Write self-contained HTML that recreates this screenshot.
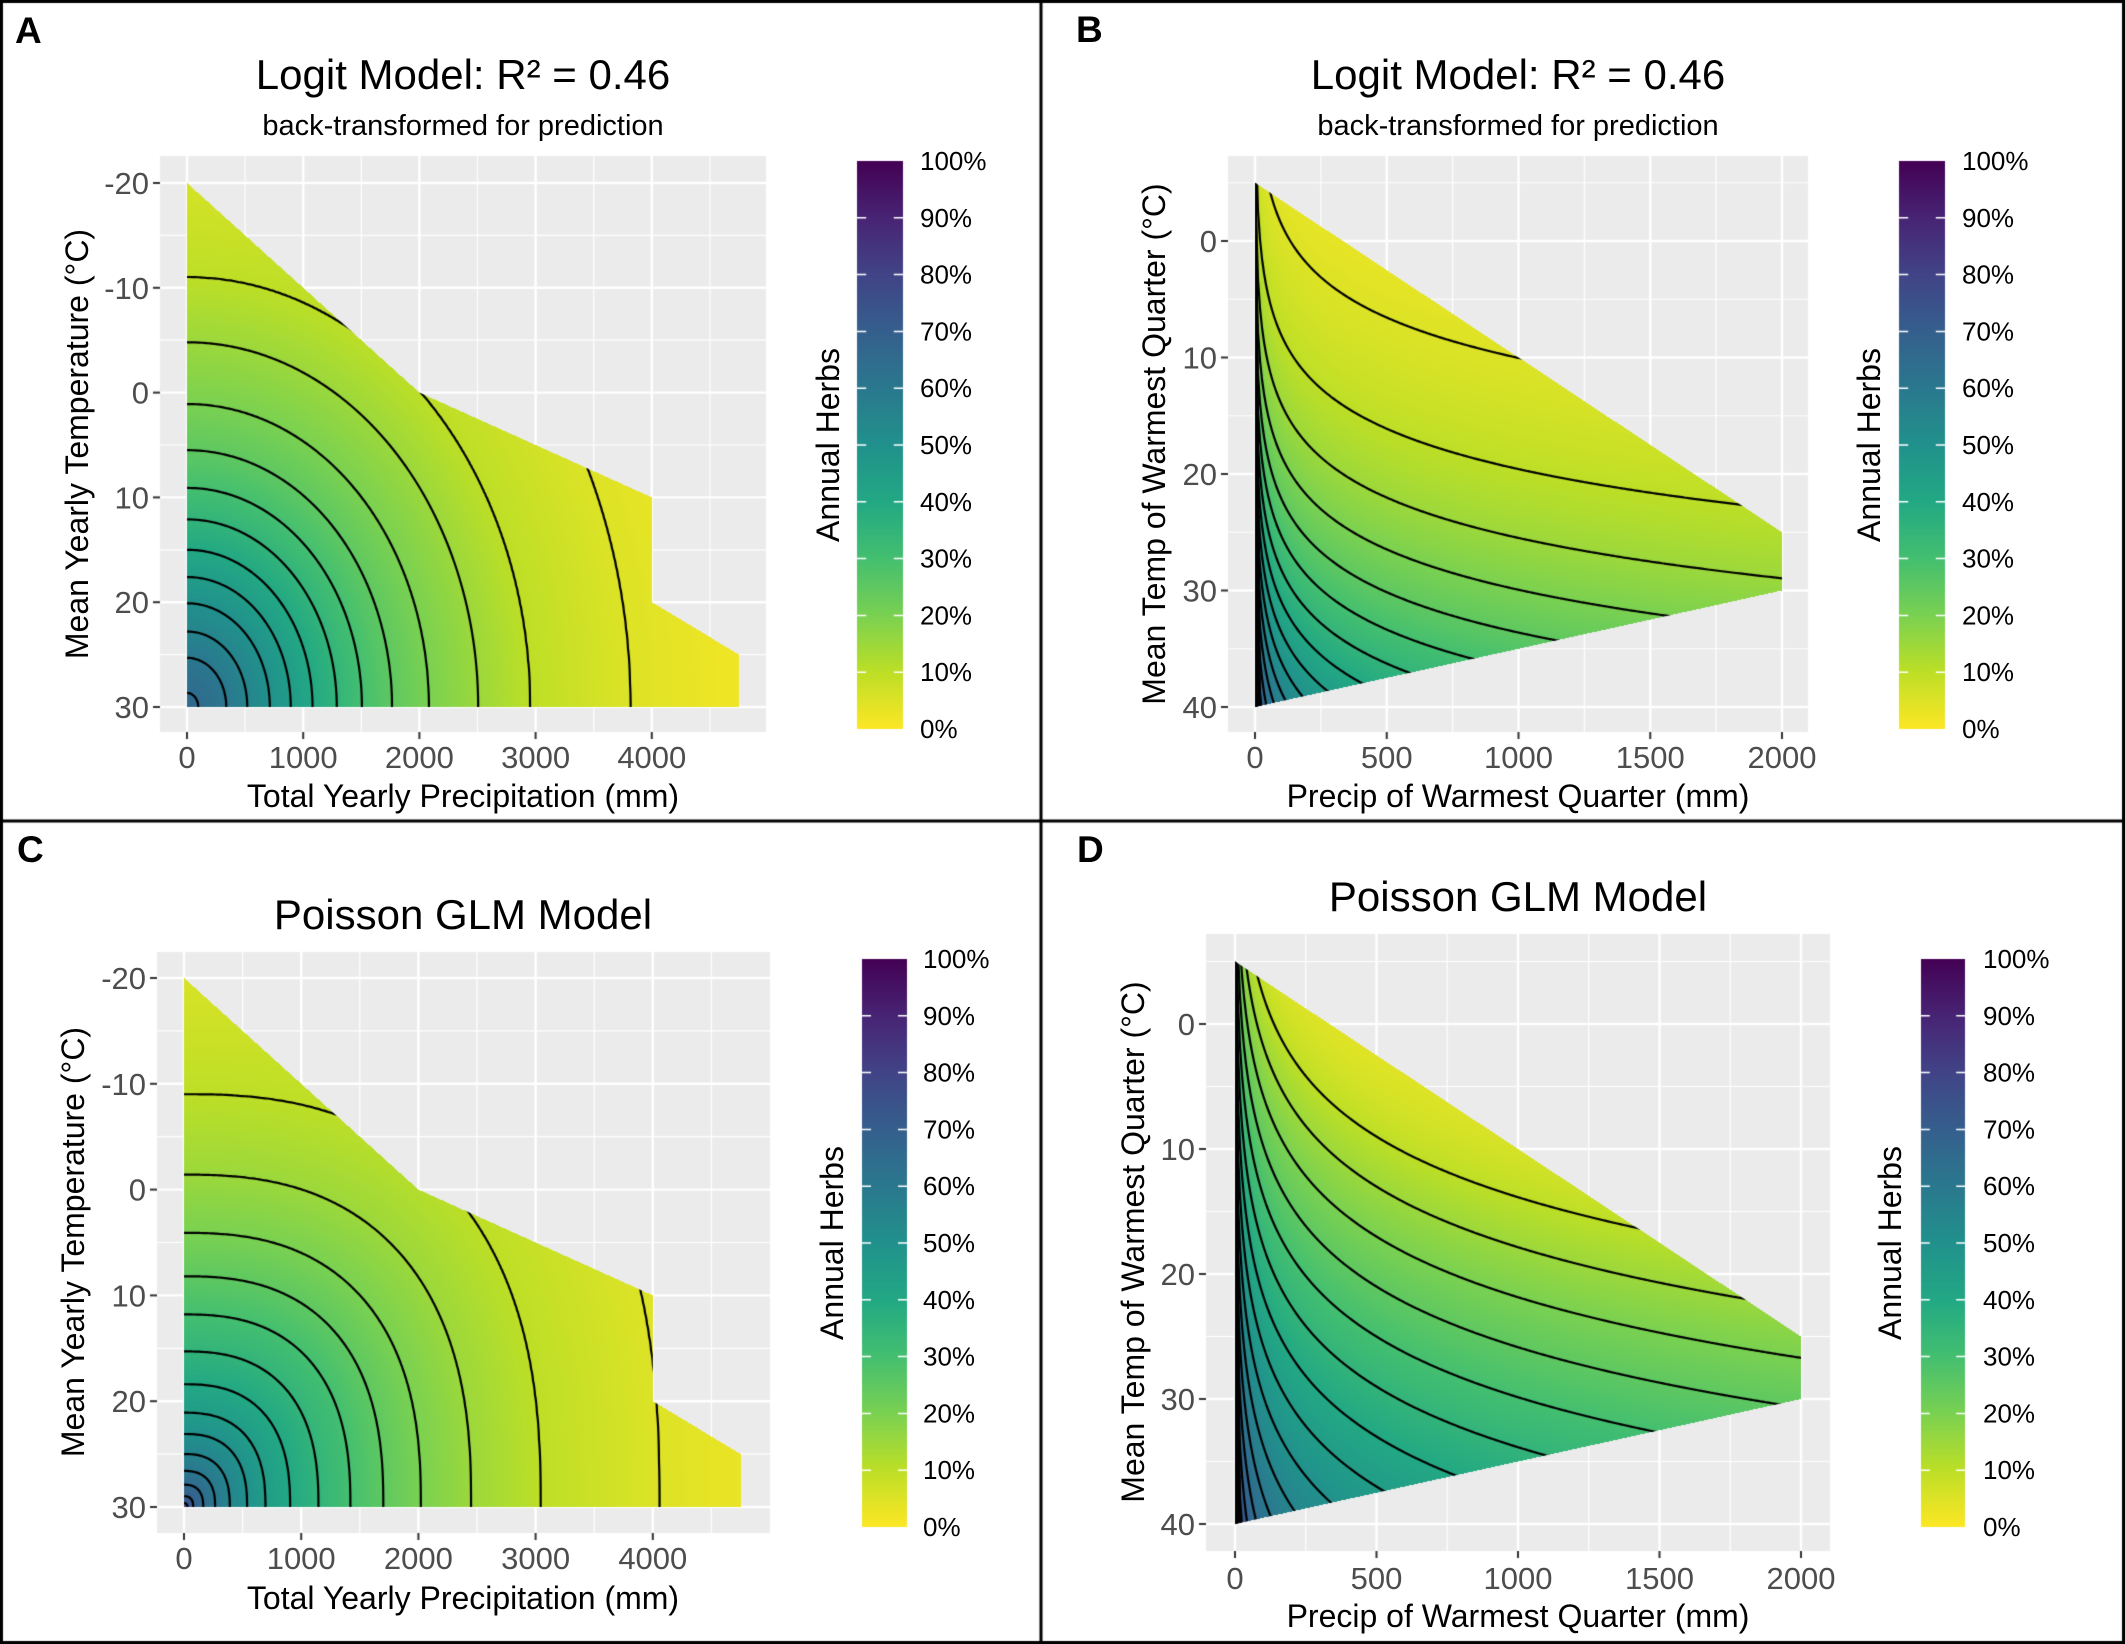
<!DOCTYPE html>
<html><head><meta charset="utf-8">
<style>
html,body{margin:0;padding:0;background:#fff;}
#wrap{position:relative;width:2125px;height:1644px;overflow:hidden;}
canvas,svg{position:absolute;left:0;top:0;}
svg text{font-family:"Liberation Sans",Arial,sans-serif;}
</style></head>
<body>
<div id="wrap">
<canvas id="c" width="2125" height="1644"></canvas>
<svg width="2125" height="1644" viewBox="0 0 2125 1644" xmlns="http://www.w3.org/2000/svg">
<g font-weight="bold" font-size="37" fill="#000">
<text x="15" y="43">A</text><text x="1076" y="42">B</text>
<text x="17" y="862">C</text><text x="1077" y="862">D</text>
</g>
<g font-size="42" fill="#000" text-anchor="middle">
<text x="463" y="89">Logit Model: R² = 0.46</text>
<text x="1518" y="89">Logit Model: R² = 0.46</text>
<text x="463" y="929">Poisson GLM Model</text>
<text x="1518" y="911">Poisson GLM Model</text>
</g>
<g font-size="29" fill="#000" text-anchor="middle">
<text x="463" y="135">back-transformed for prediction</text>
<text x="1518" y="135">back-transformed for prediction</text>
</g>
<g font-size="32" fill="#000" text-anchor="middle">
<text x="463" y="807">Total Yearly Precipitation (mm)</text>
<text x="1518" y="807">Precip of Warmest Quarter (mm)</text>
<text x="463" y="1609">Total Yearly Precipitation (mm)</text>
<text x="1518" y="1627">Precip of Warmest Quarter (mm)</text>
<text transform="translate(88,444) rotate(-90)">Mean Yearly Temperature (°C)</text>
<text transform="translate(1165,444) rotate(-90)">Mean Temp of Warmest Quarter (°C)</text>
<text transform="translate(84,1242) rotate(-90)">Mean Yearly Temperature (°C)</text>
<text transform="translate(1144,1242) rotate(-90)">Mean Temp of Warmest Quarter (°C)</text>
<text transform="translate(839,445) rotate(-90)">Annual Herbs</text>
<text transform="translate(1880,445) rotate(-90)">Annual Herbs</text>
<text transform="translate(843,1243) rotate(-90)">Annual Herbs</text>
<text transform="translate(1901,1243) rotate(-90)">Annual Herbs</text>
</g>
<g id="ticks" font-size="31" fill="#4d4d4d"></g>
<g id="leg" font-size="26" fill="#000"></g>
</svg>
</div>
<script>
var VIR=["#440154","#482475","#414487","#355f8d","#2a788e","#21918c","#22a884","#44bf70","#7ad151","#bddf26","#fde725"];
var VRGB=VIR.map(function(h){return[parseInt(h.substr(1,2),16),parseInt(h.substr(3,2),16),parseInt(h.substr(5,2),16)];});
function vir(t){t=Math.max(0,Math.min(1,t));var f=t*10,i=Math.min(9,Math.floor(f)),u=f-i;var a=VRGB[i],b=VRGB[i+1];return[a[0]+(b[0]-a[0])*u,a[1]+(b[1]-a[1])*u,a[2]+(b[2]-a[2])*u];}
function interp(tab,r){if(r<=tab[0][0])return tab[0][1];for(var i=1;i<tab.length;i++){if(r<=tab[i][0]){var a=tab[i-1],b=tab[i];return a[1]+(b[1]-a[1])*(r-a[0])/(b[0]-a[0]);}}return tab[tab.length-1][1];}
var tabA=[[0,67],[4.7,60],[7.2,55],[9.9,50],[12.4,45],[15,40],[17.9,35],[20.9,30],[24.5,25],[28.9,20],[34.8,15],[41,10],[53,5],[70,1]];
var tabC=[[0,78],[1,70],[2.1,65],[3.4,60],[5,55],[6.9,50],[8.9,45],[11.6,40],[14.7,35],[18.2,30],[21.8,25],[25.9,20],[31.4,15],[39,10],[52,5],[66,2]];
function fA(P,T){P=Math.max(P,0);var a=P/72,b=Math.max(30-T,0),n=2.0;var r=Math.pow(Math.pow(a,n)+Math.pow(b,n),1/n);return interp(tabA,r);}
function fC(P,T){P=Math.max(P,0);var a=P/78,b=Math.max(30-T,0),n=2.5;var r=Math.pow(Math.pow(a,n)+Math.pow(b,n),1/n);return interp(tabC,r);}
function fB(P,T){P=Math.max(P,0);var s=T-5*Math.log(P+0.5);var l=0.0783*(s-13.1);return 100/(1+Math.exp(-l));}
function fD(P,T){P=Math.max(P,0);var s=T-7*Math.log(P+0.5);var p=s>=-34.5?10+1.25*(s+34.5):10*Math.exp((s+34.5)/8);return Math.min(100,p);}
function rng(a,b,s){var o=[];for(var v=a;v<=b+1e-9;v+=s)o.push(v);return o;}
var panels=[
{bg:[160,156,766,732],x0:187,kx:0.1162,y0:183,T0:-20,ky:10.48,poly:[[0,-20],[2000,0],[4000,10],[4000,20],[4750,25],[4750,30],[0,30]],f:fA,lv:rng(5,65,5),xmaj:rng(0,4000,1000),xmin:rng(500,4500,1000),ymaj:rng(-20,30,10),ymin:rng(-15,25,10),cb:[857,161,903,729],lx:920,xb:768,wedge:false},
{bg:[1228,156,1808,732],x0:1255,kx:0.2635,y0:241,T0:0,ky:11.65,poly:[[0,-5],[2000,25],[2000,30],[0,40]],f:fB,lv:rng(5,95,5),xmaj:rng(0,2000,500),xmin:rng(250,1750,500),ymaj:rng(0,40,10),ymin:rng(-5,35,10),cb:[1899,161,1945,729],lx:1962,xb:768,wedge:true},
{bg:[157,952,770,1533],x0:184,kx:0.1172,y0:978,T0:-20,ky:10.58,poly:[[0,-20],[2000,0],[4000,10],[4000,20],[4750,25],[4750,30],[0,30]],f:fC,lv:rng(5,75,5),xmaj:rng(0,4000,1000),xmin:rng(500,4500,1000),ymaj:rng(-20,30,10),ymin:rng(-15,25,10),cb:[862,959,907,1527],lx:923,xb:1569,wedge:false},
{bg:[1206,934,1830,1551],x0:1235,kx:0.283,y0:1024,T0:0,ky:12.5,poly:[[0,-5],[2000,25],[2000,30],[0,40]],f:fD,lv:rng(10,95,5),xmaj:rng(0,2000,500),xmin:rng(250,1750,500),ymaj:rng(0,40,10),ymin:rng(-5,35,10),cb:[1921,959,1965,1527],lx:1983,xb:1589,wedge:true}
];
var cv=document.getElementById('c'),ctx=cv.getContext('2d');
ctx.fillStyle='#fff';ctx.fillRect(0,0,2125,1644);
var NS="http://www.w3.org/2000/svg";
function addText(g,x,y,s,anchor){var t=document.createElementNS(NS,'text');t.setAttribute('x',x);t.setAttribute('y',y);if(anchor)t.setAttribute('text-anchor',anchor);t.textContent=s;g.appendChild(t);}
var gt=document.getElementById('ticks'),gl=document.getElementById('leg');
function inPoly(pt,poly){var x=pt[0],y=pt[1],ins=false;for(var i=0,j=poly.length-1;i<poly.length;j=i++){var xi=poly[i][0],yi=poly[i][1],xj=poly[j][0],yj=poly[j][1];if(((yi>y)!=(yj>y))&&(x<(xj-xi)*(y-yi)/(yj-yi)+xi))ins=!ins;}return ins;}
panels.forEach(function(p){
 var X=function(P){return p.x0+P*p.kx;},Y=function(T){return p.y0+(T-p.T0)*p.ky;};
 var iP=function(px){return (px-p.x0)/p.kx;},iT=function(py){return p.T0+(py-p.y0)/p.ky;};
 var b=p.bg;
 ctx.fillStyle='#ebebeb';ctx.fillRect(b[0],b[1],b[2]-b[0],b[3]-b[1]);
 ctx.strokeStyle='#fff';
 ctx.lineWidth=1.2;
 p.xmin.forEach(function(v){var x=X(v);if(x<b[2]){ctx.beginPath();ctx.moveTo(x,b[1]);ctx.lineTo(x,b[3]);ctx.stroke();}});
 p.ymin.forEach(function(v){var y=Y(v);if(y>b[1]&&y<b[3]){ctx.beginPath();ctx.moveTo(b[0],y);ctx.lineTo(b[2],y);ctx.stroke();}});
 ctx.lineWidth=2.4;
 p.xmaj.forEach(function(v){var x=X(v);ctx.beginPath();ctx.moveTo(x,b[1]);ctx.lineTo(x,b[3]);ctx.stroke();});
 p.ymaj.forEach(function(v){var y=Y(v);ctx.beginPath();ctx.moveTo(b[0],y);ctx.lineTo(b[2],y);ctx.stroke();});
 var w=b[2]-b[0],h=b[3]-b[1];
 var oc=document.createElement('canvas');oc.width=w;oc.height=h;var octx=oc.getContext('2d');
 var img=octx.createImageData(w,h),d=img.data;
 for(var j=0;j<h;j++){var T=iT(b[1]+j+0.5);for(var i=0;i<w;i++){var P=iP(b[0]+i+0.5);if(!inPoly([P,T],p.poly))continue;var v=p.f(P,T);var c=vir(1-v/100);var k=(j*w+i)*4;d[k]=c[0];d[k+1]=c[1];d[k+2]=c[2];d[k+3]=255;}}
 octx.putImageData(img,0,0);
 ctx.drawImage(oc,b[0],b[1]);
 ctx.save();ctx.beginPath();p.poly.forEach(function(q,ii){var x=X(q[0]),y=Y(q[1]);if(ii==0)ctx.moveTo(x,y);else ctx.lineTo(x,y);});ctx.closePath();ctx.clip();
 var st=2,nx=Math.ceil(w/st)+1,ny=Math.ceil(h/st)+1,G=[];
 for(var j=0;j<ny;j++){G.push([]);for(var i=0;i<nx;i++){G[j].push(p.f(iP(b[0]+i*st),iT(b[1]+j*st)));}}
 ctx.strokeStyle='#000';ctx.lineWidth=2.2;ctx.lineCap='round';
 p.lv.forEach(function(L){ctx.beginPath();
  for(var j=0;j<ny-1;j++)for(var i=0;i<nx-1;i++){
   var v0=G[j][i],v1=G[j][i+1],v2=G[j+1][i+1],v3=G[j+1][i];
   var pts=[];var x0=b[0]+i*st,y0=b[1]+j*st;
   if((v0<L)!=(v1<L))pts.push([x0+st*(L-v0)/(v1-v0),y0]);
   if((v1<L)!=(v2<L))pts.push([x0+st,y0+st*(L-v1)/(v2-v1)]);
   if((v3<L)!=(v2<L))pts.push([x0+st*(L-v3)/(v2-v3),y0+st]);
   if((v0<L)!=(v3<L))pts.push([x0,y0+st*(L-v0)/(v3-v0)]);
   if(pts.length>=2){ctx.moveTo(pts[0][0],pts[0][1]);ctx.lineTo(pts[1][0],pts[1][1]);}
   if(pts.length==4){ctx.moveTo(pts[2][0],pts[2][1]);ctx.lineTo(pts[3][0],pts[3][1]);}
  }
  ctx.stroke();});
 if(p.wedge){ctx.fillStyle='#000';ctx.beginPath();ctx.moveTo(X(0),Y(-5));ctx.lineTo(X(0)+2,Y(-5));ctx.lineTo(X(0)+6,Y(40));ctx.lineTo(X(0),Y(40));ctx.closePath();ctx.fill();}
 ctx.restore();
 ctx.strokeStyle='#333';ctx.lineWidth=2;
 p.ymaj.forEach(function(v){var y=Y(v);ctx.beginPath();ctx.moveTo(b[0]-7,y);ctx.lineTo(b[0],y);ctx.stroke();addText(gt,b[0]-11,y+11,String(v),'end');});
 p.xmaj.forEach(function(v){var x=X(v);ctx.beginPath();ctx.moveTo(x,b[3]);ctx.lineTo(x,b[3]+7);ctx.stroke();addText(gt,x,p.xb,String(v),'middle');});
 var cb=p.cb,gr=ctx.createLinearGradient(0,cb[3],0,cb[1]);
 for(var k=0;k<=20;k++){var c=vir(1-k/20);gr.addColorStop(k/20,'rgb('+c.map(Math.round).join(',')+')');}
 ctx.fillStyle=gr;ctx.fillRect(cb[0],cb[1],cb[2]-cb[0],cb[3]-cb[1]);
 ctx.strokeStyle='#fff';ctx.lineWidth=1.5;var bw=cb[2]-cb[0],tl=bw/5;
 for(var k=0;k<=10;k++){var y=cb[3]-(cb[3]-cb[1])*k/10;
  if(k>0&&k<10){ctx.beginPath();ctx.moveTo(cb[0],y);ctx.lineTo(cb[0]+tl,y);ctx.moveTo(cb[2]-tl,y);ctx.lineTo(cb[2],y);ctx.stroke();}
  addText(gl,p.lx,y+9,(k*10)+'%');}
});
ctx.strokeStyle='#000';ctx.lineWidth=3;
ctx.strokeRect(1.5,1.5,2122,1641);
ctx.beginPath();ctx.moveTo(1041,0);ctx.lineTo(1041,1644);ctx.moveTo(0,821);ctx.lineTo(2125,821);ctx.stroke();
</script>
</body></html>
